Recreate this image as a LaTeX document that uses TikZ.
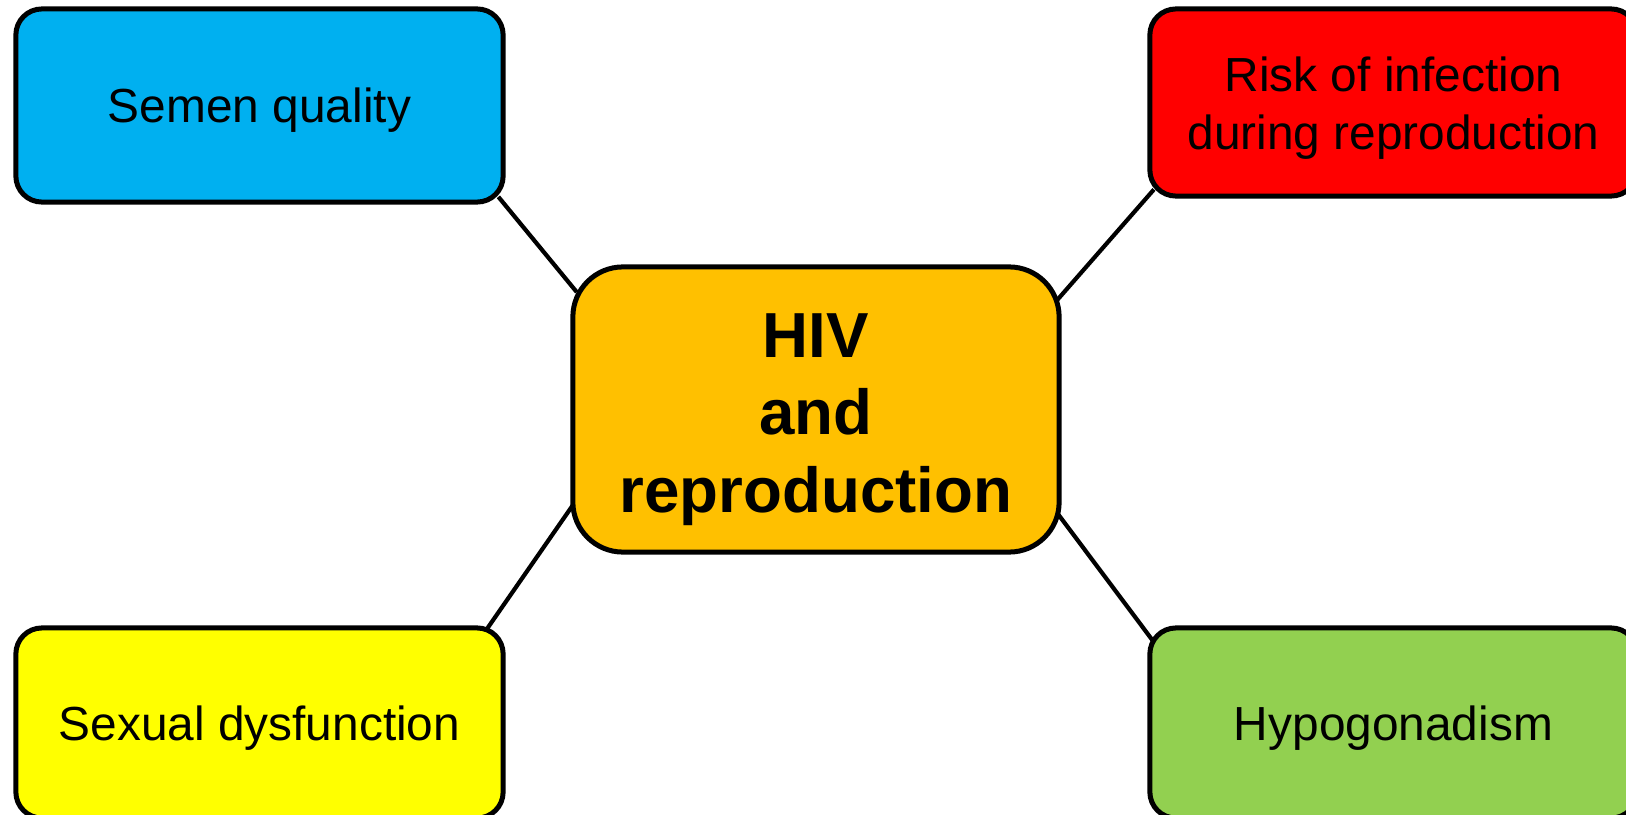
\documentclass[tikz,border=0pt]{standalone}
\usepackage{fontspec}
\setmainfont{Liberation Sans}
\usetikzlibrary{backgrounds}
\definecolor{semenblue}{HTML}{00B0F0}
\definecolor{riskred}{HTML}{FF0000}
\definecolor{hivorange}{HTML}{FFC000}
\definecolor{sexyellow}{HTML}{FFFF00}
\definecolor{hypogreen}{HTML}{92D050}
\tikzset{
	topic/.style={draw=black, line width=0.05cm, rounded corners=0.26cm,
		minimum width=4.87cm, minimum height=1.9cm, align=center,
		font=\fontsize{13.6}{16.5}\selectfont},
	hub/.style={draw=black, line width=0.05cm, rounded corners=0.5cm,
		minimum width=4.86cm, minimum height=2.85cm, align=center,
		font=\fontsize{18.1}{22}\selectfont\bfseries},
	link/.style={line width=0.042cm, shorten <=-0.1cm, shorten >=-0.1cm},
}

\begin{document}
\begin{tikzpicture}[x=0.01cm,y=-0.01cm]
\useasboundingbox (0,0) rectangle (1626,815);
% centre
\node[hub, fill=hivorange] (hiv) at (816,409.5) {\rule{0pt}{0.64cm}HIV\\and\\reproduction};
% the four topics
\node[topic, fill=semenblue, minimum height=1.93cm, text height=0.34cm, text depth=0cm] (semen) at (259.5,105.5) {Semen quality};
\node[topic, fill=riskred, minimum height=1.87cm] (risk) at (1393.5,102.5) {\rule{0pt}{0.465cm}Risk of infection\\during reproduction};
\node[topic, fill=sexyellow, text height=0.34cm, text depth=0cm] (sexual) at (259.5,723) {Sexual dysfunction};
\node[topic, fill=hypogreen, text height=0.34cm, text depth=0cm] (hypo) at (1393.5,723) {Hypogonadism};
% links
\begin{scope}[on background layer]
\draw[link] (semen.-22) -- (hiv.153);
\draw[link] (risk.201) -- (hiv.25);
\draw[link] (sexual.23) -- (hiv.202);
\draw[link] (hypo.160) -- (hiv.-24);
\end{scope}
\end{tikzpicture}
\end{document}
